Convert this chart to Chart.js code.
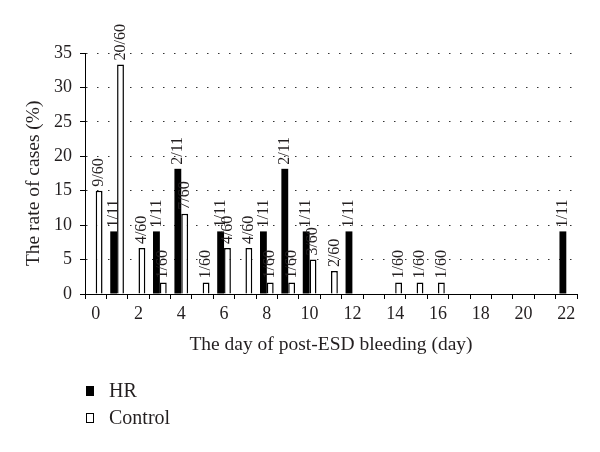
<!DOCTYPE html>
<html>
<head>
<meta charset="utf-8">
<script src="https://cdn.jsdelivr.net/npm/chart.js@4.4.1/dist/chart.umd.min.js"></script>
<style>
    html, body { margin: 0; padding: 0; background: #fff; }
    #wrap { position: relative; width: 600px; height: 452px; }
    .legend-item { position: absolute; left: 86px; height: 22px; font: 20px "Liberation Serif", serif; color: #231f20; }
    .legend-box { position: absolute; left: 0; top: 6px; width: 8px; height: 10px; box-sizing: border-box; border: 1px solid #000; }
    .legend-text { position: absolute; left: 23px; top: -1px; white-space: nowrap; }
</style>
</head>
<body>
<div id="wrap">
    <canvas id="chart" width="600" height="452"></canvas>
    <div class="legend-item" style="top:380px"><div class="legend-box" style="background:#000"></div><span class="legend-text">HR</span></div>
    <div class="legend-item" style="top:407px"><div class="legend-box" style="background:#fff"></div><span class="legend-text">Control</span></div>
</div>
<script>
// 数据
const days = ["0", "1", "2", "3", "4", "5", "6", "7", "8", "9", "10", "11", "12", "13", "14", "15", "16", "17", "18", "19", "20", "21", "22"];
const hrValues = [0, 9.09, 0, 9.09, 18.18, 0, 9.09, 0, 9.09, 18.18, 9.09, 0, 9.09, 0, 0, 0, 0, 0, 0, 0, 0, 0, 9.09];
const controlValues = [15, 33.33, 6.67, 1.67, 11.67, 1.67, 6.67, 6.67, 1.67, 1.67, 5, 3.33, 0, 0, 1.67, 1.67, 1.67, 0, 0, 0, 0, 0, 0];
const hrLabels = ["", "1/11", "", "1/11", "2/11", "", "1/11", "", "1/11", "2/11", "1/11", "", "1/11", "", "", "", "", "", "", "", "", "", "1/11"];
const controlLabels = ["9/60", "20/60", "4/60", "1/60", "7/60", "1/60", "4/60", "4/60", "1/60", "1/60", "3/60", "2/60", "", "", "1/60", "1/60", "1/60", "", "", "", "", "", ""];
const yTicks = [0, 5, 10, 15, 20, 25, 30, 35];

const serif = "'Liberation Serif', serif";
const ink = "#231f20";

// 柱顶竖排标注
const barLabels = {
    id: "barLabels",
    afterDatasetsDraw(chart) {
        const ctx = chart.ctx;
        const texts = [hrLabels, controlLabels];
        ctx.save();
        ctx.font = "16px " + serif;
        ctx.fillStyle = ink;
        ctx.textAlign = "left";
        ctx.textBaseline = "middle";
        chart.data.datasets.forEach((ds, di) => {
            chart.getDatasetMeta(di).data.forEach((bar, i) => {
                const t = texts[di][i];
                if (!t) return;
                ctx.save();
                ctx.translate(bar.x, bar.y - 4);
                ctx.rotate(-Math.PI / 2);
                ctx.fillText(t, 0, 0);
                ctx.restore();
            });
        });
        ctx.restore();
    }
};

new Chart(document.getElementById("chart"), {
    type: "bar",
    data: {
        labels: days,
        datasets: [
            { label: "HR", data: hrValues, backgroundColor: "#000", borderColor: "#000", borderWidth: 0 },
            { label: "Control", data: controlValues, backgroundColor: "#fff", borderColor: "#000", borderWidth: 1.5 }
        ]
    },
    options: {
        responsive: false,
        animation: false,
        layout: { padding: { left: 0, top: 53, right: 23, bottom: 0 } },
        datasets: { bar: { categoryPercentage: 0.64, barPercentage: 1 } },
        plugins: { legend: { display: false }, tooltip: { enabled: false } },
        scales: {
            x: {
                afterFit: (s) => { s.height = 158; },
                grid: { drawOnChartArea: false, drawTicks: true, tickLength: 5, tickColor: "#000", tickWidth: 1 },
                border: { display: true, color: "#000", width: 1 },
                ticks: {
                    autoSkip: false, maxRotation: 0, padding: 4,
                    color: ink, font: { family: serif, size: 18 },
                    callback: (v, i) => (i % 2 === 0 ? days[i] : "")
                },
                title: {
                    display: true, text: "The day of post-ESD bleeding (day)",
                    color: ink, font: { family: serif, size: 19.5 },
                    padding: { top: 0, bottom: 95 }
                }
            },
            y: {
                min: 0, max: 35,
                afterFit: (s) => { s.width = 85; },
                afterBuildTicks: (s) => { s.ticks = yTicks.map(v => ({ value: v })); },
                grid: { color: "#333", lineWidth: 1, tickLength: 5, tickColor: "#000", tickBorderDash: [] },
                border: { display: true, color: "#000", width: 1, dash: [1.5, 9.5] },
                ticks: { padding: 8, color: ink, font: { family: serif, size: 18 } },
                title: {
                    display: true, text: "The rate of cases (%)    ",
                    color: ink, font: { family: serif, size: 19.5 },
                    padding: { top: 22, bottom: 0 }
                }
            }
        }
    },
    plugins: [barLabels]
});
</script>
</body>
</html>
